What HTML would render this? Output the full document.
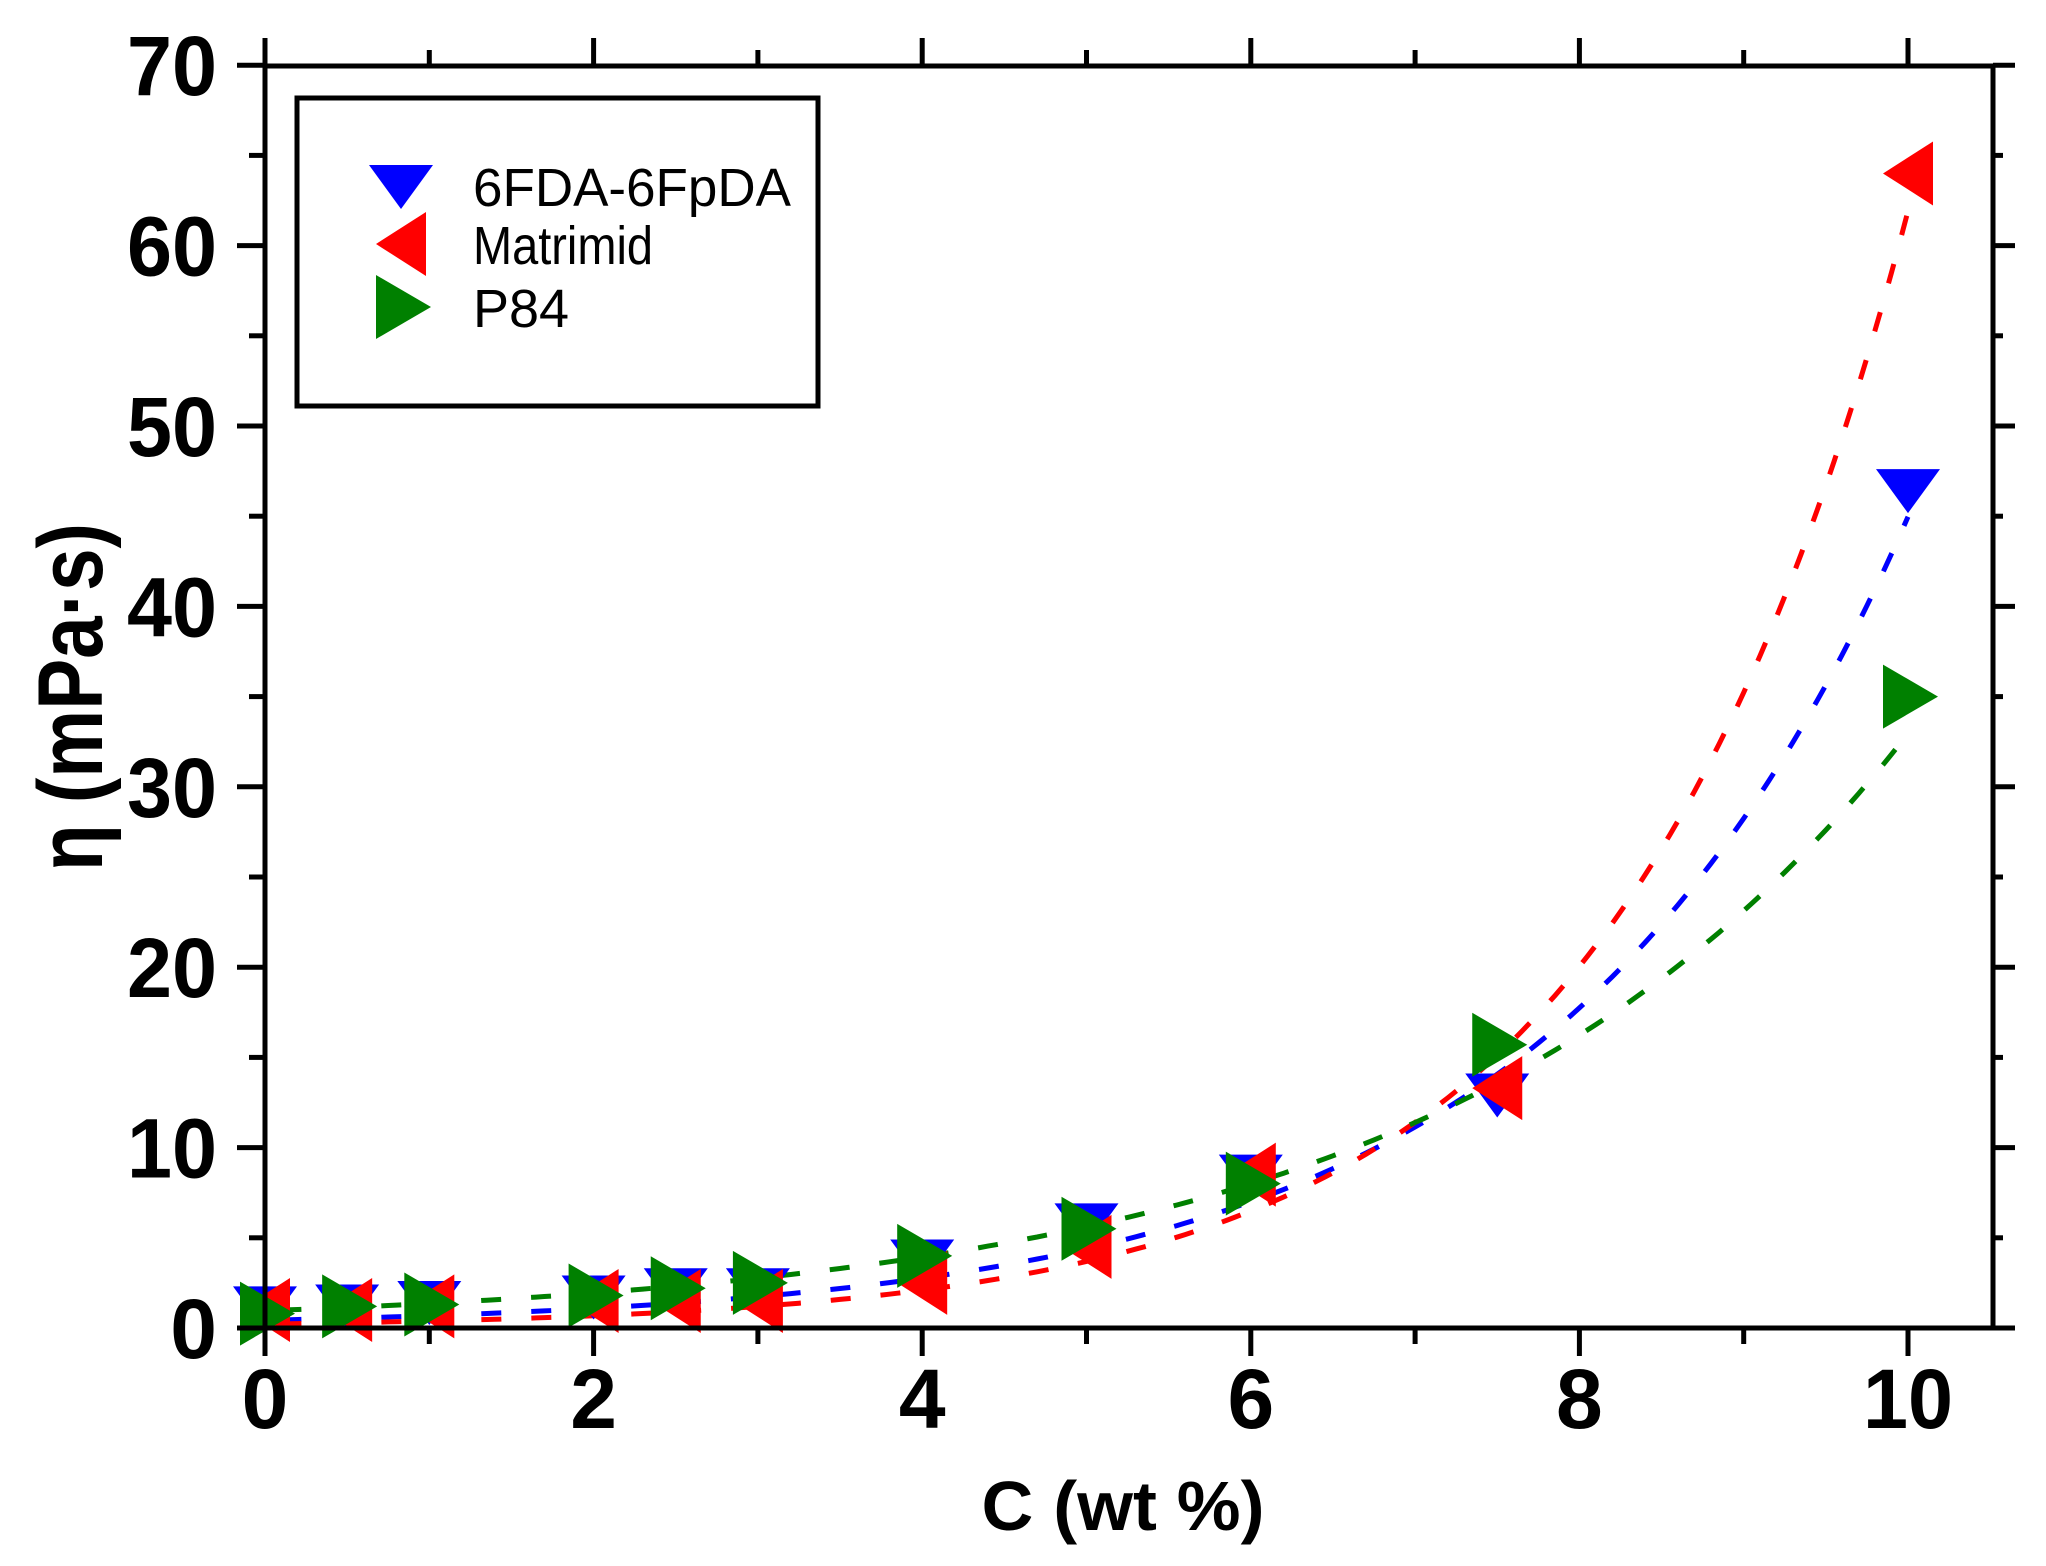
<!DOCTYPE html>
<html><head><meta charset="utf-8"><style>
html,body{margin:0;padding:0;background:#fff;}
svg{display:block;}
</style></head><body>
<svg id="s" width="2046" height="1566" xmlns="http://www.w3.org/2000/svg" font-family="Liberation Sans, Arial, sans-serif">
<rect width="2046" height="1566" fill="#fff"/>
<g id="curves"></g>
<g id="marks"></g>
<g id="axes" stroke="#000" stroke-width="5" fill="none"></g>
<g id="labels" font-weight="bold" fill="#000"></g>
<text x="1123" y="1530" font-size="70" font-weight="bold" text-anchor="middle" textLength="283" lengthAdjust="spacingAndGlyphs">C (wt %)</text>
<text transform="translate(102,697) rotate(-90)" font-size="92" font-weight="bold" text-anchor="middle" textLength="348" lengthAdjust="spacingAndGlyphs">η (mPa·s)</text>
<rect x="297" y="98" width="521" height="308" fill="#fff" stroke="#000" stroke-width="5"/>
<g font-size="54" fill="#000">
<text x="473" y="206" textLength="318" lengthAdjust="spacingAndGlyphs">6FDA-6FpDA</text>
<text x="473" y="264" textLength="180" lengthAdjust="spacingAndGlyphs">Matrimid</text>
<text x="473" y="327">P84</text>
</g>
<g id="leg"></g>
</svg>
<script>
var X0=265,XU=164.3,Y0=1328,YU=18.04,L=265,R=1993,T=66,B=1328;
function px(x){return X0+x*XU} function py(y){return Y0-y*YU}
var ns="http://www.w3.org/2000/svg";
function el(p,t,a){var e=document.createElementNS(ns,t);for(var k in a)e.setAttribute(k,a[k]);p.appendChild(e);return e;}
var ax=document.getElementById('axes');
el(ax,'rect',{x:L,y:T,width:R-L,height:B-T});
for(var i=0;i<=10;i++){var x=px(i);var maj=i%2==0;
 el(ax,'line',{x1:x,y1:B,x2:x,y2:B+(maj?28:16)});
 el(ax,'line',{x1:x,y1:T,x2:x,y2:T-(maj?28:16)});}
for(var j=0;j<=14;j++){var y=py(j*5);var maj=j%2==0;
 el(ax,'line',{x1:L,y1:y,x2:L-(maj?28:16),y2:y});
 el(ax,'line',{x1:R,y1:y,x2:R+(maj?22:10),y2:y});}
var lb=document.getElementById('labels');
for(var j=0;j<=7;j++){var t=el(lb,'text',{x:217,y:py(j*10)+30,'font-size':84,'text-anchor':'end'});t.textContent=String(j*10);
 if(j>0){t.setAttribute('textLength',90);t.setAttribute('lengthAdjust','spacingAndGlyphs');}}
for(var i=0;i<=10;i+=2){var t=el(lb,'text',{x:px(i),y:1428,'font-size':84,'text-anchor':'middle'});t.textContent=String(i);
 if(i==10){t.setAttribute('textLength',90);t.setAttribute('lengthAdjust','spacingAndGlyphs');}}
var cv=document.getElementById('curves');
var fits=[['#0000ff',0.43,0.465],['#ff0000',0.22,0.564],['#008000',0.956,0.354]];
fits.forEach(function(f){var d='';for(var x=0.1;x<=10.001;x+=0.05){d+=(d?'L':'M')+px(x).toFixed(1)+','+py(f[1]*Math.exp(f[2]*x)).toFixed(1);}
 el(cv,'path',{d:d,stroke:f[0],'stroke-width':5,fill:'none','stroke-dasharray':'20 30'});});
var xs=[0,0.5,1,2,2.5,3,4,5,6,7.5,10];
var blue=[1.2,1.3,1.5,1.8,2.2,2.2,3.8,5.8,8.5,13,46.5];
var red=[1,1,1.2,1.5,1.5,1.5,2.5,4.5,8.5,13.3,64];
var green=[0.8,1.2,1.3,1.8,2.2,2.5,4,5.5,8,15.7,35];
var mk=document.getElementById('marks');
function down(p,cx,cy,c){el(p,'polygon',{points:(cx-32)+','+(cy-20)+' '+(cx+32)+','+(cy-20)+' '+cx+','+(cy+24),fill:c});}
function left(p,cx,cy,c){el(p,'polygon',{points:(cx+25)+','+(cy-32)+' '+(cx+25)+','+(cy+32)+' '+(cx-25)+','+cy,fill:c});}
function right(p,cx,cy,c){el(p,'polygon',{points:(cx-25)+','+(cy-32)+' '+(cx-25)+','+(cy+32)+' '+(cx+30)+','+cy,fill:c});}
xs.forEach(function(x,i){down(mk,px(x),py(blue[i]),'#0000ff');});
xs.forEach(function(x,i){left(mk,px(x),py(red[i]),'#ff0000');});
xs.forEach(function(x,i){right(mk,px(x),py(green[i]),'#008000');});
var lg=document.getElementById('leg');
down(lg,401,185,'#0000ff');left(lg,401,244,'#ff0000');right(lg,401,307,'#008000');
</script>
</body></html>
